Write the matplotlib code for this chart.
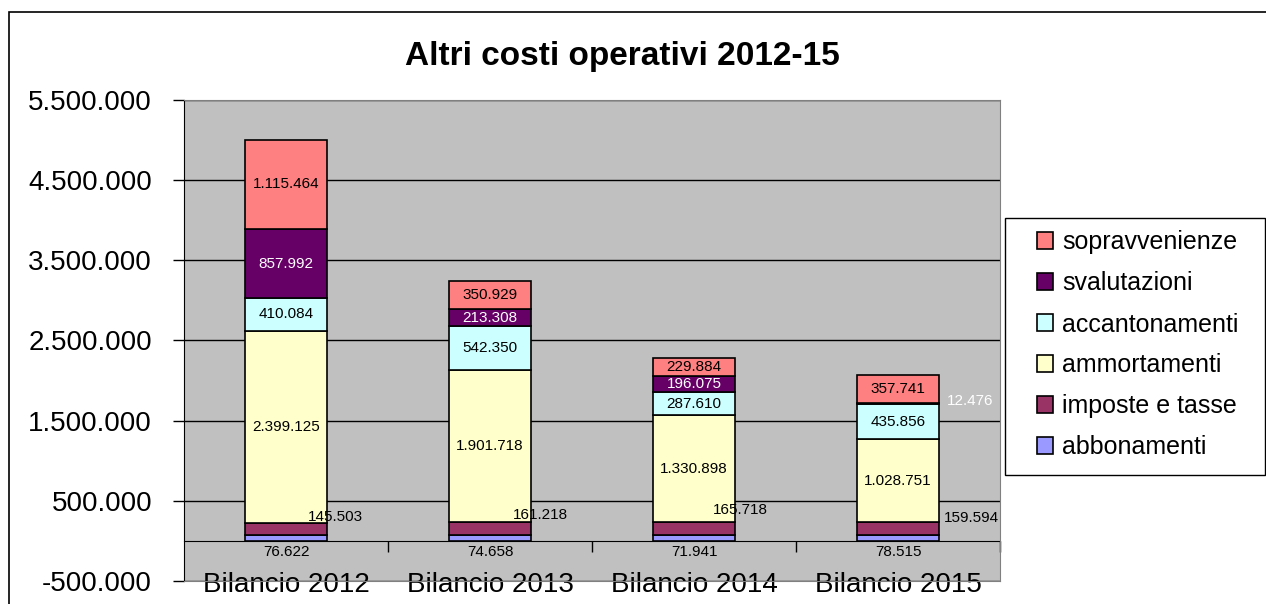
import numpy as np
import matplotlib
matplotlib.use("Agg")
from matplotlib import pyplot as plt
from matplotlib.patches import Rectangle
from matplotlib.ticker import FuncFormatter

plt.rcParams['font.family'] = ['Liberation Sans', 'DejaVu Sans']

# dati
anni = ["Bilancio 2012", "Bilancio 2013", "Bilancio 2014", "Bilancio 2015"]
voci = ["abbonamenti", "imposte e tasse", "ammortamenti",
        "accantonamenti", "svalutazioni", "sopravvenienze"]
abbonamenti = [76622, 74658, 71941, 78515]
imposte = [145503, 161218, 165718, 159594]
ammortamenti = [2399125, 1901718, 1330898, 1028751]
accantonamenti = [410084, 542350, 287610, 435856]
svalutazioni = [857992, 213308, 196075, 12476]
sopravvenienze = [1115464, 350929, 229884, 357741]
serie = [abbonamenti, imposte, ammortamenti, accantonamenti, svalutazioni, sopravvenienze]

colori = ["#9999FF", "#993366", "#FFFFCC", "#CCFFFF", "#660066", "#FF8080"]
col_testo = ["black", "black", "black", "black", "white", "black"]

# posizione delle etichette spostate fuori dalla barra (dx in categorie, y in valore)
pos_imposte = [(0.24, 295000), (0.245, 320000), (0.225, 385000), (0.36, 280000)]
pos_abbon_y = -135000

fig = plt.figure(figsize=(12.66, 6.04), dpi=100)
ax = fig.add_axes([184 / 1266, 1 - 581 / 604, 816 / 1266, 481 / 604])
ax.set_facecolor("#C0C0C0")

x = np.arange(len(anni))
base = np.zeros(len(anni))
for i, valori in enumerate(serie):
    ax.bar(x, valori, width=0.4, bottom=base, color=colori[i],
           edgecolor="black", linewidth=1.2, label=voci[i], zorder=3)
    for j, v in enumerate(valori):
        testo = f"{v:,}".replace(",", ".")
        if i == 0:
            ax.text(x[j], pos_abbon_y, testo, ha="center", va="center",
                    fontsize=11, color="black", zorder=5)
        elif i == 1:
            dx, yy = pos_imposte[j]
            ax.text(x[j] + dx, yy, testo, ha="center", va="center",
                    fontsize=11, color="black", zorder=5)
        elif i == 4 and v < 50000:
            ax.text(x[j] + 0.353, base[j] + v / 2 + 40000, testo, ha="center",
                    va="center", fontsize=11, color="white", zorder=5)
        else:
            ax.text(x[j], base[j] + v / 2, testo, ha="center", va="center",
                    fontsize=11, color=col_testo[i], zorder=5)
    base += np.array(valori)

ax.set_xlim(-0.5, 3.5)
ax.set_ylim(-500000, 5500000)
ax.set_yticks(np.arange(-500000, 5500001, 1000000))
ax.yaxis.set_major_formatter(FuncFormatter(lambda v, p: f"{v:,.0f}".replace(",", ".")))
ax.yaxis.grid(True, color="black", linewidth=1)
ax.set_axisbelow(True)
ax.tick_params(axis="y", labelsize=20, length=8, width=1, pad=15, direction="out")

ax.set_xticks(x)
ax.set_xticklabels(anni, fontsize=20)
ax.tick_params(axis="x", length=0, pad=-6.5)

for s in ["top", "right", "bottom"]:
    ax.spines[s].set_color("#808080")
ax.spines["left"].set_color("black")

# asse delle categorie sullo zero
zero = 500000 / 6000000
sec = ax.secondary_xaxis(zero)
sec.set_xticks([0.5, 1.5, 2.5, 3.5])
sec.tick_params(axis="x", length=8, width=1, color="black",
                labelbottom=False, labeltop=False, direction="out")
for s in sec.spines.values():
    s.set_color("black")

fig.text(622 / 1266, 1 - 57 / 604, "Altri costi operativi 2012-15",
         fontsize=24, fontweight="bold", ha="center", va="center")

# legenda: riquadro disegnato a parte
fig.add_artist(Rectangle((1005 / 1266, 1 - 475 / 604), 260 / 1266, 257 / 604,
                         transform=fig.transFigure, facecolor="white",
                         edgecolor="black", linewidth=1, zorder=4))
h, l = ax.get_legend_handles_labels()
leg = fig.legend(h[::-1], l[::-1], loc="upper left",
                 bbox_to_anchor=(1024.5 / 1266, 1 - 218 / 604),
                 fontsize=18, frameon=False,
                 borderpad=0.5, labelspacing=0.68, handlelength=0.64,
                 handleheight=0.64, handletextpad=0.36, borderaxespad=0)
leg.set_zorder(5)

fig.add_artist(Rectangle((9 / 1266, -0.1), 2, 1 - 12 / 604 + 0.1,
                         transform=fig.transFigure, fill=False,
                         edgecolor="black", linewidth=1.2))

plt.savefig("out.png", dpi=100)
